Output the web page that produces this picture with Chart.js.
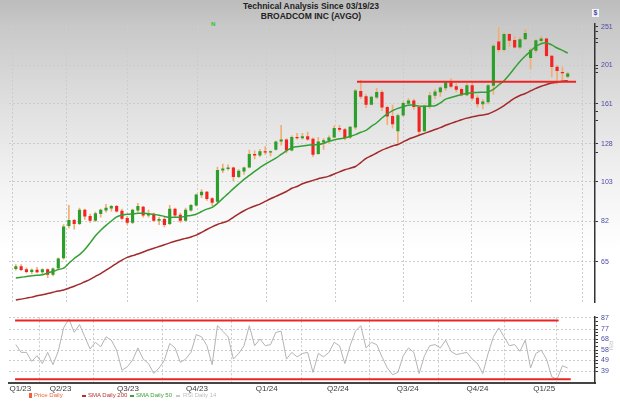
<!DOCTYPE html>
<html>
<head>
<meta charset="utf-8">
<script src="https://cdn.jsdelivr.net/npm/chart.js@4.4.1/dist/chart.umd.min.js"></script>
<style>
  html, body { margin: 0; padding: 0; }
  body {
    width: 620px; height: 403px; position: relative; overflow: hidden;
    background: linear-gradient(to bottom, #bcbcbc 0px, #c8c8c8 25px, #dedede 100px, #f2f2f2 180px, #ffffff 250px);
    font-family: "Liberation Sans", Arial, sans-serif;
  }
  #top { position: absolute; left: 0; top: 0; width: 620px; height: 310px; }
  #bot { position: absolute; left: 0; top: 310px; width: 620px; height: 93px; }
  .ttl { position: absolute; left: 1px; width: 620px; text-align: center; font-weight: bold; font-size: 8.5px; color: #222; }
  .lg { position: absolute; top: 392px; font-size: 6px; white-space: nowrap; }
  .mk { position: absolute; }
</style>
</head>
<body>
<div class="ttl" style="top:1px">Technical Analysis Since 03/19/23</div>
<div class="ttl" style="top:11px">BROADCOM INC (AVGO)</div>
<div style="position:absolute;left:211px;top:21px;font-size:6px;font-weight:bold;color:#22cc22">N</div>
<div style="position:absolute;left:592px;top:9px;width:7px;height:8px;background:#f4f4f8;font-size:7px;line-height:8px;text-align:center;color:#4a4aa8;font-weight:bold">$</div>
<div style="position:absolute;left:608px;top:341px;font-size:5.5px;color:#bbb;writing-mode:vertical-rl">RSI</div>

<div id="top"><canvas id="priceChart"></canvas></div>
<div id="bot"><canvas id="rsiChart"></canvas></div>

<div class="mk" style="left:29px;top:393px;width:3px;height:5px;background:#f0603a"></div>
<div class="lg" style="left:34px;color:#e8663c">Price Daily</div>
<div class="mk" style="left:82px;top:395px;width:4px;height:2px;background:#b83232"></div>
<div class="lg" style="left:88px;color:#b83232">SMA Daily 200</div>
<div class="mk" style="left:130px;top:395px;width:4px;height:2px;background:#3aa33a"></div>
<div class="lg" style="left:136px;color:#3aa33a">SMA Daily 50</div>
<div class="mk" style="left:176px;top:395px;width:4px;height:2px;background:#c8c8c8"></div>
<div class="lg" style="left:183px;color:#bdbdbd">RSI Daily 14</div>

<script>
// weekly candles, first one centred on this date
const firstWeek = '2023-03-22';

const open = [62.5, 63.3, 62.2, 61.5, 62, 61.4, 62.2, 60.5, 62.8, 66.5,
  80, 82.5, 81, 87.5, 84.5, 82.5, 85.8, 87.5, 88.5, 89.5,
  87, 83.5, 81.5, 87.5, 89, 85, 85.5, 82.5, 83, 81,
  88, 85, 82.5, 87.5, 90, 95.5, 97, 93.5, 92, 110,
  111, 111.5, 106, 109.5, 112, 120.5, 120, 122.5, 122, 124,
  130, 131, 123.5, 133, 132.5, 133.5, 131.5, 121, 129.5, 130.5,
  133, 140, 139, 133, 141, 173, 168, 160.5, 167.5, 172,
  158, 150, 138, 151, 161.5, 164, 158, 138, 159, 169,
  172.5, 176.5, 182, 178, 175, 169.5, 179, 166.5, 161, 163,
  179, 230, 220, 240, 232, 223, 234, 210, 219, 231.5,
  234, 212, 199, 193, 188.5];
const high = [64, 64, 62.8, 62.5, 63, 62.5, 62.5, 62.8, 66.5, 80.5,
  90, 83, 88.5, 88, 85.5, 86.5, 88, 90.5, 90, 90,
  88, 84.5, 88, 91, 89.5, 87.5, 86, 84, 84, 90,
  88.5, 86, 88.5, 90.5, 96, 98.5, 97.5, 94, 112, 114,
  113.5, 112, 110.5, 112, 123.5, 123, 124, 126, 123, 130,
  142.5, 132, 134, 136, 136, 137, 132.5, 133, 132, 134,
  142, 142.5, 140, 141.5, 175, 184.5, 170, 168.5, 176, 174,
  159, 160, 152, 163, 166, 165.5, 159, 160, 172, 175,
  178, 183, 186, 181, 176.5, 181, 182, 169, 165, 180.5,
  226, 250, 242, 241, 237, 236, 247, 222, 233, 237.5,
  235, 213, 201, 199, 193];
const low = [62, 61.8, 61, 60.8, 61, 60.5, 59.4, 60, 62.5, 66,
  79, 78.5, 80.5, 83, 81.5, 82, 84, 86.5, 87, 86.5,
  83, 80.5, 81, 86.5, 84, 84, 82, 80.5, 79.5, 80.5,
  84, 81.5, 82, 87, 89.5, 94, 92.5, 89.8, 91.5, 108.5,
  110, 103.5, 105.5, 107.5, 111.5, 117.5, 119, 120.5, 119.5, 123.5,
  127, 121.5, 123, 131.5, 131.5, 130.5, 119, 120.5, 124, 128.5,
  132.5, 137.5, 131, 132, 139, 166, 157.5, 160, 166, 155,
  143, 140, 128.5, 150, 159.5, 156, 135, 137.5, 157, 166,
  168, 174, 176.5, 172.5, 168.5, 168.5, 164.5, 158, 156.5, 161,
  170, 217, 218, 224, 222, 221, 233, 197, 216, 229,
  211, 188, 180.5, 184, 187];
const close = [63.3, 62.2, 61.5, 62, 61.4, 62.2, 60.5, 62.5, 66.2, 79.5,
  82.5, 81, 87.5, 84.5, 82.5, 85.8, 87.5, 88.5, 89.5, 87,
  83.5, 81.5, 87.5, 89.5, 85, 85.5, 82.5, 83, 80.5, 88,
  85, 82.5, 87.5, 90, 95.5, 97, 93.5, 91.5, 110, 111,
  111.5, 106, 109.5, 111.5, 120.5, 120, 122.5, 122, 122.5, 129.5,
  131, 123.5, 133, 132.5, 133.5, 131.5, 120.5, 129.5, 130.5, 132.5,
  140, 139, 132.5, 141, 173.5, 168, 160.5, 167.5, 172, 158,
  150, 143.5, 150.5, 161.5, 164, 158.5, 137.5, 159, 169, 172.5,
  176.5, 182, 178, 175, 169.5, 179, 166.5, 161, 163, 179,
  224.5, 220, 240, 232, 223, 233, 241.5, 219.5, 231.5, 234,
  212.5, 199.5, 195, 192.5, 191.5];
const sma50 = [59.3, 59.5, 59.8, 60, 60.2, 60.4, 61, 61.5, 62.2, 62.7,
  64.5, 66.3, 67.8, 69.8, 72.5, 75.5, 78, 80.2, 82.2, 84.2,
  85.1, 85.5, 85.7, 85.9, 86, 85.7, 85.4, 85, 84.4, 83.9,
  84, 84, 84.5, 84.9, 85.5, 86.8, 88, 88.9, 91, 93.6,
  96.2, 99, 101.7, 104.4, 106.8, 109.3, 111.7, 114, 115.9, 118,
  120.5, 123, 125.2, 126, 126.5, 127, 127.3, 127.5, 128.5, 130,
  131, 131.8, 132.4, 133.5, 135, 136.8, 138.3, 141.5, 144.5, 148.5,
  152, 155, 157, 158.5, 159.8, 159.8, 159, 158.8, 159, 159.3,
  162, 165.5, 167, 168.5, 170, 171, 171.8, 172, 172.2, 172.5,
  175, 179.5, 184, 190.5, 198, 205.5, 212, 218, 224, 227.5,
  228.6, 226, 222, 219, 215.5];
const sma200 = [52.2, 52.5, 52.8, 53.1, 53.5, 53.8, 54.2, 54.6, 55, 55.3,
  55.9, 56.5, 57.2, 58, 58.8, 59.8, 60.8, 62, 63.2, 64.5,
  65.7, 66.7, 67.4, 68, 68.8, 69.6, 70.3, 71, 71.7, 72.5,
  73.2, 73.8, 74.4, 75, 75.8, 77, 78.3, 79.5, 80.6, 81.4,
  82.3, 84, 85.7, 87.2, 88.5, 89.6, 90.6, 92, 93.4, 94.7,
  96, 97.4, 99.2, 100.2, 101.8, 102.8, 103.8, 104.8, 105.5, 106.4,
  107.7, 109, 110.3, 111.3, 112.4, 115, 117.8, 119.6, 121.5, 123.5,
  125, 126.5, 127.6, 129.5, 131.5, 133, 134.5, 136, 137.5, 139,
  140.5, 142.5, 144, 145.5, 147, 148.4, 149.5, 150.5, 151.2, 152,
  154, 156.5, 159.5, 163, 166.5, 169, 171, 173.5, 176, 178.3,
  180, 181.5, 182.5, 183.3, 184];
const rsi14 = [63, 56, 56, 48, 53, 46, 56, 45, 57, 78,
  86, 74, 81, 70, 59, 65, 61, 70, 67, 58,
  40, 43, 49, 60, 50, 46, 37, 42, 49, 64,
  60, 47, 50, 56, 72, 70, 62, 45, 80, 75,
  70, 50, 55, 62, 80, 62, 68, 62, 63, 74,
  75, 50, 56, 52, 55, 56, 38, 55, 52, 56,
  65, 62, 46, 62, 75, 80, 60, 65, 63, 52,
  42, 36, 38, 53, 60, 56, 37, 53, 62, 63,
  60, 67, 57, 54, 55, 56, 50, 46, 37, 55,
  70, 78, 70, 62, 63, 57, 67, 42, 55, 58,
  50, 34, 32, 44, 42];

// horizontal trend lines
const resistLevel = 182.8;
const resistFrom = '2024-06-14', resistTo = '2025-03-30';
const rsiHigh = 84.7, rsiHighFrom = '2023-03-21', rsiHighTo = '2025-03-07';
const rsiLow = 31.8, rsiLowFrom = '2023-03-21', rsiLowTo = '2025-03-23';

// axes
const priceTicks = [65, 82, 103, 128, 161, 201, 251];
const priceMinor = [244, 235, 229, 197, 193, 154, 146, 122];
const rsiTicks = [39, 49, 58, 68, 77, 87];
const gridDates = ['2023-04-22', '2023-07-02', '2023-10-01', '2024-01-01', '2024-04-02',
  '2024-06-30', '2024-09-29', '2024-12-26', '2025-03-04'];
const quarterLabels = ['Q1/23', 'Q2/23', 'Q3/23', 'Q4/23', 'Q1/24', 'Q2/24', 'Q3/24', 'Q4/24', 'Q1/25'];
const quarterLabelDates = ['2023-03-28', '2023-05-20', '2023-08-17', '2023-11-16', '2024-02-16',
  '2024-05-20', '2024-08-20', '2024-11-20', '2025-02-16'];
const xStart = '2023-03-13', xEnd = '2025-04-24';

const FONT = '"Liberation Sans", Arial, sans-serif';
const dayNum = s => (Date.parse(s) - Date.parse('2023-01-01')) / 864e5;
const xs = close.map((_, i) => dayNum(firstWeek) + 7 * i);
const gridDays = gridDates.map(dayNum);
const labelDays = quarterLabelDates.map(dayNum);

const seg = (a, b, v) => [{ x: dayNum(a), y: v }, { x: dayNum(b), y: v }];

const baseX = {
  type: 'linear', min: dayNum(xStart), max: dayNum(xEnd),
  grid: { color: '#cccccc', drawTicks: false },
  border: { display: false, dash: [2, 2] }
};

new Chart(document.getElementById('priceChart'), {
  type: 'bar',
  data: {
    datasets: [
      { type: 'line', data: seg(resistFrom, resistTo, resistLevel), borderColor: '#ee2424', borderWidth: 2, pointRadius: 0, order: 0 },
      { type: 'line', data: xs.map((x, i) => ({ x, y: sma50[i] })), borderColor: '#33a033', borderWidth: 1.5, pointRadius: 0, tension: 0.3, order: 1 },
      { type: 'line', data: xs.map((x, i) => ({ x, y: sma200[i] })), borderColor: '#a22a2a', borderWidth: 1.5, pointRadius: 0, tension: 0.3, order: 1 },
      { data: xs.map((x, i) => ({ x, y: [open[i], close[i]] })), grouped: false, barThickness: 2.5,
        backgroundColor: close.map((c, i) => c >= open[i] ? '#2c9e2c' : '#f02424'), order: 2 },
      { data: xs.map((x, i) => ({ x, y: [low[i], high[i]] })), grouped: false, barThickness: 1,
        backgroundColor: '#f2ae72', order: 3 }
    ]
  },
  options: {
    animation: false, responsive: true, maintainAspectRatio: false,
    layout: { padding: { left: 9, top: 24, right: 0, bottom: 3 } },
    plugins: { legend: { display: false }, tooltip: { enabled: false } },
    scales: {
      x: Object.assign({}, baseX, {
        offset: false,
        ticks: { display: false },
        afterBuildTicks: s => { s.ticks = gridDays.map(v => ({ value: v })); },
        afterFit: s => { s.height = 0; }
      }),
      y: {
        type: 'logarithmic', position: 'right', min: 51.4, max: 254.8,
        afterBuildTicks: s => { s.ticks = priceTicks.concat(priceMinor).map(v => ({ value: v })); },
        ticks: { callback: v => priceTicks.includes(v) ? String(v) : '', color: '#4a4aa8', font: { size: 7, family: FONT }, padding: 3, autoSkip: false },
        grid: { color: c => (c.tick && priceTicks.includes(c.tick.value)) ? '#cccccc' : 'rgba(0,0,0,0)', tickColor: '#333', tickLength: 3 },
        border: { display: true, color: '#333', width: 1.5, dash: [2, 2] },
        afterFit: s => { s.width = 25; }
      }
    }
  }
});

const rsiMinor = [];
for (let k = 0; k < rsiTicks.length - 1; k++) {
  const a = rsiTicks[k], b = rsiTicks[k + 1];
  rsiMinor.push(a + (b - a) / 3, a + 2 * (b - a) / 3);
}

new Chart(document.getElementById('rsiChart'), {
  type: 'line',
  data: {
    datasets: [
      { data: seg(rsiHighFrom, rsiHighTo, rsiHigh), borderColor: '#ee2424', borderWidth: 2, pointRadius: 0 },
      { data: seg(rsiLowFrom, rsiLowTo, rsiLow), borderColor: '#ee2424', borderWidth: 2, pointRadius: 0 },
      { data: xs.map((x, i) => ({ x, y: rsi14[i] })), borderColor: '#b4b4b4', borderWidth: 1, pointRadius: 0 }
    ]
  },
  options: {
    animation: false, responsive: true, maintainAspectRatio: false,
    layout: { padding: { left: 9, top: 5, right: 0, bottom: 0 } },
    plugins: { legend: { display: false }, tooltip: { enabled: false } },
    scales: {
      x: Object.assign({}, baseX, {
        afterBuildTicks: s => {
          s.ticks = gridDays.concat(labelDays).sort((a, b) => a - b).map(v => ({ value: v }));
        },
        ticks: {
          callback: v => { const k = labelDays.indexOf(v); return k >= 0 ? quarterLabels[k] : ''; },
          color: '#3a3a3a', font: { size: 8, family: FONT }, padding: 1, autoSkip: false, maxRotation: 0
        },
        grid: { drawTicks: false, color: c => (c.tick && gridDays.includes(c.tick.value)) ? '#cccccc' : 'rgba(0,0,0,0)' },
        border: { display: true, color: '#444', width: 2, dash: [2, 2] },
        afterFit: s => { s.height = 20; }
      }),
      y: {
        type: 'linear', position: 'right', min: 28.5, max: 87.6,
        afterBuildTicks: s => { s.ticks = rsiTicks.concat(rsiMinor).map(v => ({ value: v })); },
        ticks: { callback: v => rsiTicks.includes(v) ? String(v) : '', color: '#4a4aa8', font: { size: 7, family: FONT }, padding: 3, autoSkip: false },
        grid: { color: c => (c.tick && rsiTicks.includes(c.tick.value)) ? '#cccccc' : 'rgba(0,0,0,0)', tickColor: '#333', tickLength: 3 },
        border: { display: true, color: '#333', width: 1.5, dash: [2, 2] },
        afterFit: s => { s.width = 25; }
      }
    }
  }
});
</script>
</body>
</html>
